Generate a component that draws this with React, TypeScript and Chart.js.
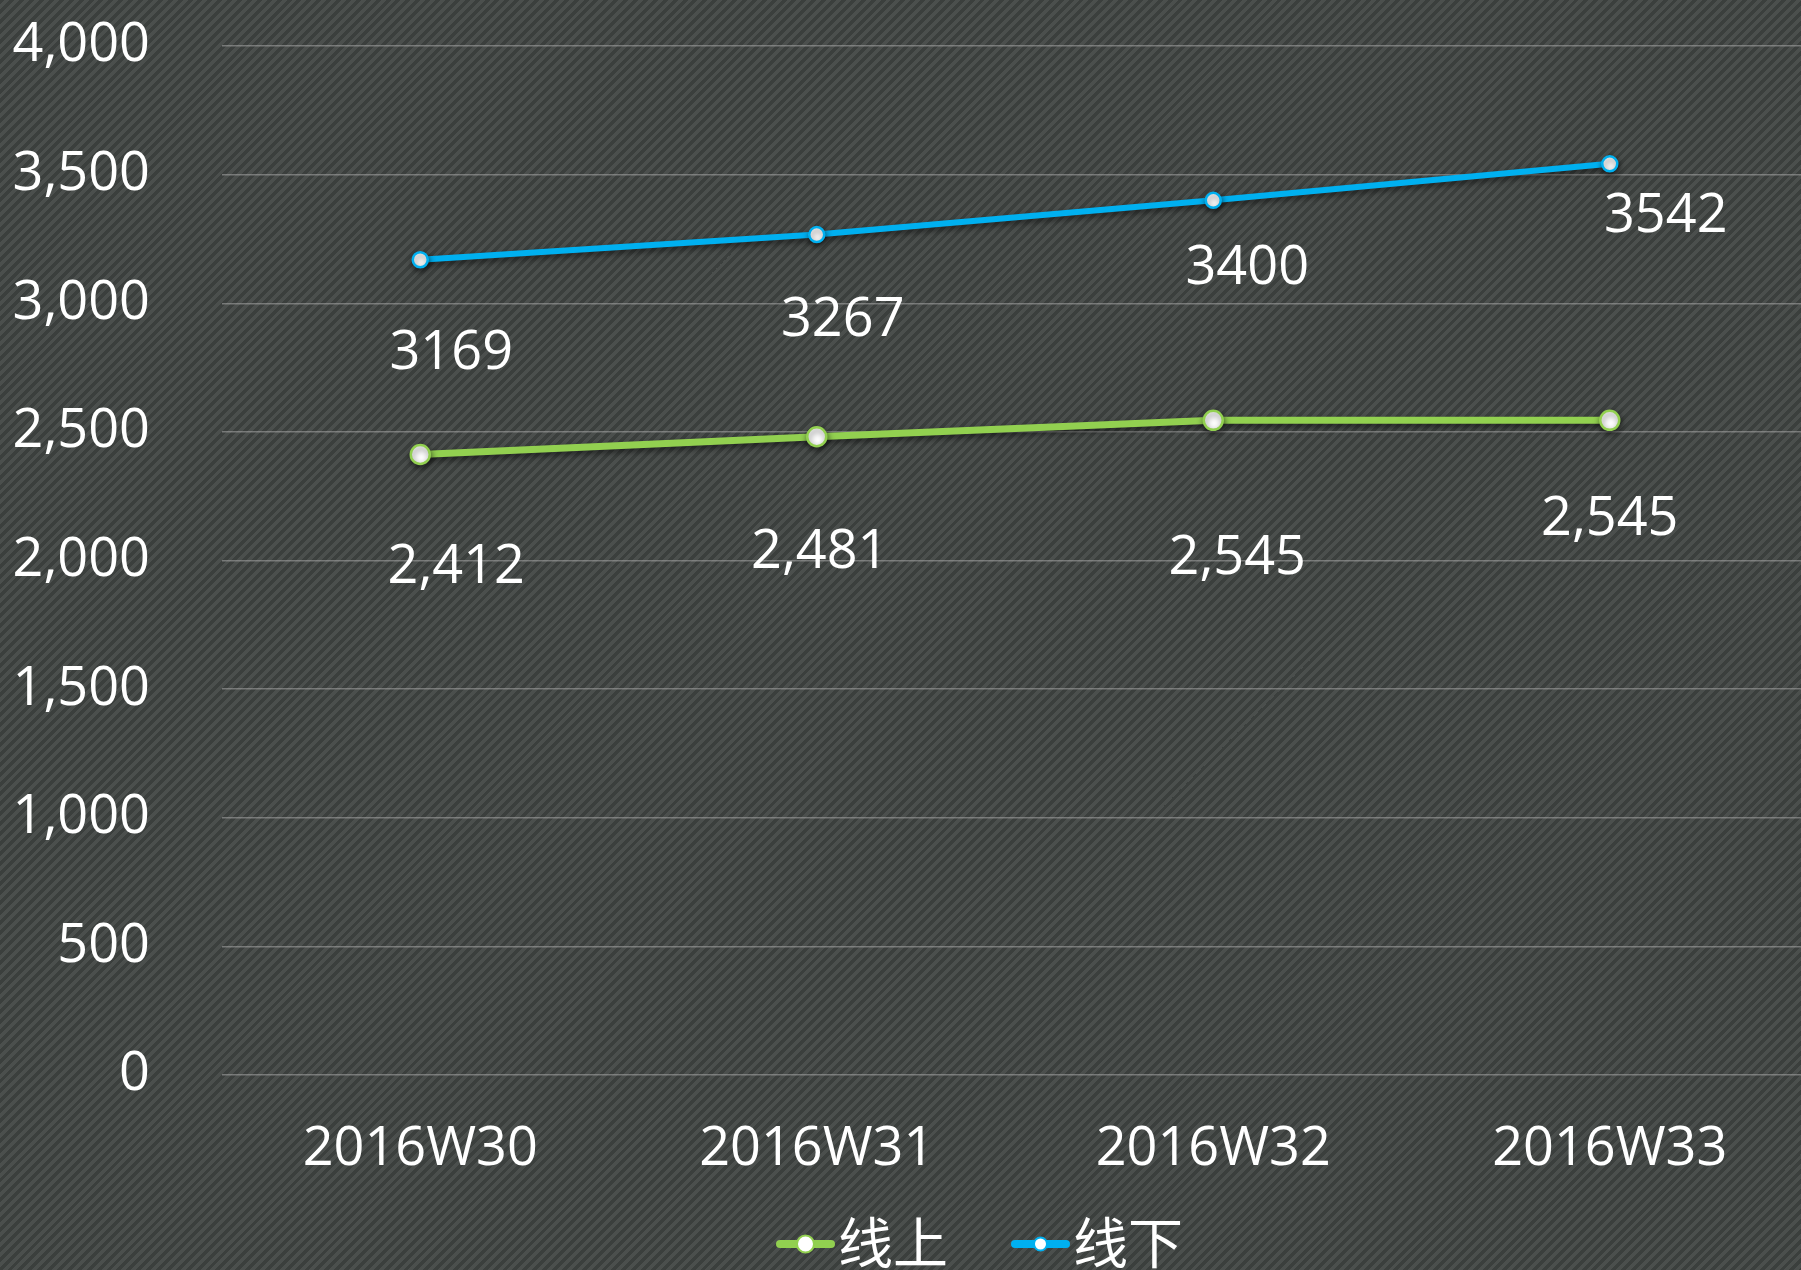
import React, { useEffect, useRef } from "react";
import { Chart, registerables } from "chart.js";

Chart.register(...registerables);

const categories = ["2016W30", "2016W31", "2016W32", "2016W33"];
const onlineLabel = "线上";
const offlineLabel = "线下";
const onlineValues = [2412, 2481, 2545, 2545];
const offlineValues = [3169, 3267, 3400, 3542];
const yTicksMin = 0;
const yTicksMax = 4000;
const yTickStep = 500;

const GREEN = "#92d050";
const BLUE = "#00b0f0";
const FONT = "'Open Sans', 'Noto Sans CJK SC', sans-serif";

// label placement relative to each point (style config, not data)
const labelOffsets = [
  [[36, 113], [3, 116], [24, 138], [0, 99]],
  [[31, 94], [26, 86], [34, 68], [56, 53]],
];

const shadowPlugin = {
  id: "lineShadow",
  beforeDatasetsDraw(chart: any) {
    const ctx = chart.ctx;
    ctx.save();
    ctx.shadowColor = "rgba(0,0,0,0.55)";
    ctx.shadowBlur = 6;
    ctx.shadowOffsetX = 1;
    ctx.shadowOffsetY = 3;
  },
  afterDatasetsDraw(chart: any) {
    chart.ctx.restore();
  },
};

const labelPlugin = {
  id: "valueLabels",
  afterDatasetsDraw(chart: any) {
    const ctx = chart.ctx;
    ctx.save();
    ctx.font = `54px ${FONT}`;
    ctx.fillStyle = "#ffffff";
    ctx.textAlign = "center";
    ctx.textBaseline = "middle";
    chart.data.datasets.forEach((ds: any, di: number) => {
      const meta = chart.getDatasetMeta(di);
      meta.data.forEach((pt: any, i: number) => {
        const v = ds.data[i] as number;
        const txt = di === 0 ? v.toLocaleString("en-US") : String(v);
        const [dx, dy] = labelOffsets[di][i];
        ctx.fillText(txt, pt.x + dx, pt.y + dy);
      });
    });
    ctx.restore();
  },
};

const legendPlugin = {
  id: "customLegend",
  afterDraw(chart: any) {
    const ctx = chart.ctx;
    ctx.save();
    ctx.font = `55px ${FONT}`;
    ctx.textBaseline = "middle";
    ctx.textAlign = "left";
    const lineW = 57;
    const gap = 4;
    const spacing = 64;
    const items = chart.data.datasets.map((ds: any) => ({
      text: ds.label,
      color: ds.borderColor,
      r: ds.pointRadius - 1,
      w: lineW + gap + ctx.measureText(ds.label).width,
    }));
    const total = items.reduce((s: number, it: any) => s + it.w, 0) + spacing * (items.length - 1);
    let x = 980 - total / 2;
    const y = 1244;
    items.forEach((it: any) => {
      ctx.strokeStyle = it.color;
      ctx.lineWidth = 8;
      ctx.lineCap = "round";
      ctx.beginPath();
      ctx.moveTo(x + 3, y);
      ctx.lineTo(x + lineW - 3, y);
      ctx.stroke();
      ctx.beginPath();
      ctx.arc(x + lineW / 2, y, it.r, 0, Math.PI * 2);
      ctx.fillStyle = "#ffffff";
      ctx.fill();
      ctx.lineWidth = 2;
      ctx.stroke();
      ctx.fillStyle = "#ffffff";
      ctx.fillText(it.text, x + lineW + gap, y + 3);
      x += it.w + spacing;
    });
    ctx.restore();
  },
};

export default function App() {
  const ref = useRef<HTMLCanvasElement | null>(null);
  useEffect(() => {
    if (!ref.current) return;
    const chart = new Chart(ref.current, {
      type: "line",
      data: {
        labels: categories,
        datasets: [
          {
            label: onlineLabel,
            data: onlineValues,
            borderColor: GREEN,
            backgroundColor: "#ffffff",
            borderWidth: 7,
            pointRadius: 9.5,
            pointBorderWidth: 2.5,
            pointBorderColor: GREEN,
            pointBackgroundColor: "#ffffff",
            tension: 0,
          },
          {
            label: offlineLabel,
            data: offlineValues,
            borderColor: BLUE,
            backgroundColor: "#ffffff",
            borderWidth: 6,
            pointRadius: 7.5,
            pointBorderWidth: 2.5,
            pointBorderColor: BLUE,
            pointBackgroundColor: "#ffffff",
            tension: 0,
          },
        ],
      },
      options: {
        animation: false,
        responsive: true,
        maintainAspectRatio: false,
        layout: { autoPadding: false, padding: { top: 46, left: 0, right: 0, bottom: 0 } },
        plugins: {
          legend: { display: false },
          tooltip: { enabled: false },
        },
        scales: {
          x: {
            offset: true,
            grid: { display: false, drawTicks: false },
            border: { display: false },
            ticks: {
              color: "#ffffff",
              font: { family: FONT, size: 54 },
              padding: 42,
              maxRotation: 0,
            },
            afterFit(scale: any) {
              scale.height = 195;
              scale.paddingLeft = 0;
              scale.paddingRight = 0;
            },
          },
          y: {
            min: yTicksMin,
            max: yTicksMax,
            grid: { color: "rgba(170,170,170,0.55)", lineWidth: 1.5, drawTicks: false },
            border: { display: false },
            ticks: {
              stepSize: yTickStep,
              color: "#ffffff",
              font: { family: FONT, size: 54 },
              padding: 72,
            },
            afterFit(scale: any) {
              scale.width = 222;
              scale.paddingTop = 0;
              scale.paddingBottom = 0;
            },
          },
        },
      },
      plugins: [shadowPlugin, labelPlugin, legendPlugin],
    } as any);
    return () => chart.destroy();
  }, []);
  return (
    <div
      style={{
        position: "absolute",
        left: 0,
        top: 0,
        width: 1801,
        height: 1270,
        overflow: "hidden",
        background:
          "repeating-linear-gradient(135deg, #3b3f3d 0px, #3b3f3d 3.5px, #4b4f4d 3.5px, #4b4f4d 7px)",
      }}
    >
      <div style={{ position: "absolute", left: 0, top: 0, width: 1808, height: 1270 }}>
        <canvas ref={ref} />
      </div>
    </div>
  );
}
